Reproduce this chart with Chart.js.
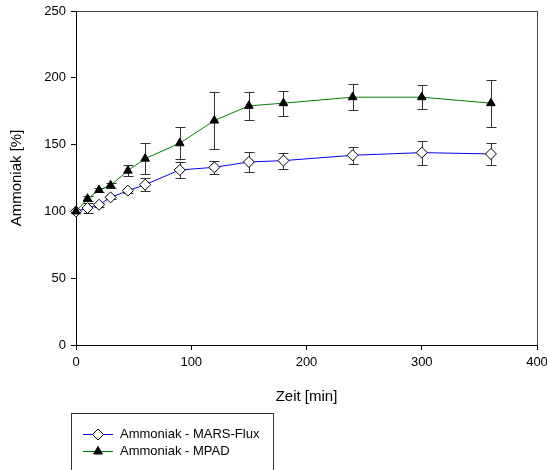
<!DOCTYPE html>
<html>
<head>
<meta charset="utf-8">
<script src="https://cdn.jsdelivr.net/npm/chart.js@4/dist/chart.umd.min.js"></script>
<style>
  html, body { margin: 0; padding: 0; background: #fff; }
  #wrap { width: 547px; height: 470px; }
</style>
</head>
<body>
<div id="wrap"><canvas id="chart" width="547" height="470"></canvas></div>
<script>
// Zeitpunkte [min]
const zeit = [0, 10, 20, 30, 45, 60, 90, 120, 150, 180, 240, 300, 360];

// Ammoniak - MARS-Flux (Mittelwert und Fehler)
const marsFlux    = [100, 102.5, 105, 110.5, 115.5, 120, 131, 133, 137, 138, 142, 144, 143];
const marsFluxErr = [0, 3.5, 1.5, 1.5, 1.5, 4.8, 6, 5, 7.8, 6, 6.4, 9, 8.3];

// Ammoniak - MPAD
const mpad    = [100, 109.5, 116, 119.5, 130.5, 139.5, 151, 168, 179, 181, 185.5, 185.5, 181];
const mpadErr = [0, 2, 1.5, 2, 4, 11.5, 12, 21.5, 10.5, 9.3, 9.5, 9.2, 17.5];

const xTicks = [0, 100, 200, 300, 400];
const yTicks = [0, 50, 100, 150, 200, 250];

const FONT = "'Liberation Sans', Arial, sans-serif";
Chart.defaults.font.family = FONT;
Chart.defaults.color = '#000';

const errors = [marsFluxErr, mpadErr];

// Fehlerbalken unter den Punkten zeichnen
const errorBars = {
  id: 'errorBars',
  beforeDatasetsDraw(chart) {
    const {ctx, scales: {x, y}} = chart;
    ctx.save();
    ctx.strokeStyle = '#333';
    ctx.lineWidth = 1;
    chart.data.datasets.forEach((ds, i) => {
      ds.data.forEach((p, j) => {
        const e = errors[i][j];
        if (!e) return;
        const px = Math.round(x.getPixelForValue(p.x)) + 0.5;
        const top = Math.round(y.getPixelForValue(p.y + e)) + 0.5;
        const bot = Math.round(y.getPixelForValue(p.y - e)) + 0.5;
        ctx.beginPath();
        ctx.moveTo(px, top); ctx.lineTo(px, bot);
        ctx.moveTo(px - 5, top); ctx.lineTo(px + 5, top);
        ctx.moveTo(px - 5, bot); ctx.lineTo(px + 5, bot);
        ctx.stroke();
      });
    });
    ctx.restore();
  }
};

// Rahmen oben/rechts und Legende
const frameAndLegend = {
  id: 'frameAndLegend',
  afterDraw(chart) {
    const {ctx, chartArea: a} = chart;
    ctx.save();
    ctx.strokeStyle = '#444';
    ctx.lineWidth = 1;
    ctx.beginPath();
    ctx.moveTo(Math.round(a.left), Math.round(a.top) + 0.5);
    ctx.lineTo(Math.round(a.right) + 0.5, Math.round(a.top) + 0.5);
    ctx.lineTo(Math.round(a.right) + 0.5, Math.round(a.bottom));
    ctx.stroke();

    // Legende
    ctx.strokeStyle = '#333';
    ctx.strokeRect(71.5, 413.5, 202, 80);
    const rows = [434, 451];
    ctx.font = '13px ' + FONT;
    ctx.textBaseline = 'middle';
    chart.data.datasets.forEach((ds, i) => {
      const yy = rows[i] + 0.5;
      ctx.strokeStyle = ds.borderColor;
      ctx.beginPath();
      ctx.moveTo(83, yy); ctx.lineTo(113, yy);
      ctx.stroke();
      ctx.fillStyle = ds.pointBackgroundColor;
      ctx.strokeStyle = ds.pointBorderColor;
      ctx.lineWidth = 1;
      Chart.helpers.drawPoint(ctx, {
        pointStyle: ds.pointStyle,
        radius: ds.pointRadius,
        borderWidth: 1
      }, 98, yy);
      ctx.fillStyle = '#000';
      ctx.fillText(ds.label, 120, yy);
    });
    ctx.restore();
  }
};

new Chart(document.getElementById('chart'), {
  type: 'line',
  data: {
    datasets: [
      {
        label: 'Ammoniak - MARS-Flux',
        data: zeit.map((t, i) => ({x: t, y: marsFlux[i]})),
        borderColor: '#0000ff',
        borderWidth: 1,
        pointStyle: 'rectRot',
        pointRadius: 5.5,
        pointBackgroundColor: '#fff',
        pointBorderColor: '#000',
        pointBorderWidth: 1,
        clip: false,
        order: 1
      },
      {
        label: 'Ammoniak - MPAD',
        data: zeit.map((t, i) => ({x: t, y: mpad[i]})),
        borderColor: '#008000',
        borderWidth: 1,
        pointStyle: 'triangle',
        pointRadius: 5,
        pointBackgroundColor: '#000',
        pointBorderColor: '#000',
        pointBorderWidth: 1,
        clip: false,
        order: 0
      }
    ]
  },
  options: {
    responsive: false,
    animation: false,
    layout: { padding: { left: 0, top: 11, right: 10, bottom: 60 } },
    plugins: { legend: { display: false }, tooltip: { enabled: false } },
    scales: {
      x: {
        type: 'linear',
        min: 0, max: 400,
        afterBuildTicks: s => { s.ticks = xTicks.map(v => ({value: v})); },
        afterFit: s => { s.height = 65; s.paddingLeft = 0; s.paddingRight = 0; },
        grid: { drawOnChartArea: false, drawTicks: true, tickLength: 5, color: '#000' },
        border: { color: '#000', width: 1 },
        ticks: { padding: 5, font: { size: 13 }, color: '#000', maxRotation: 0 },
        title: { display: true, text: 'Zeit [min]', font: { size: 15 }, padding: { top: 0, bottom: 4 }, color: '#000' }
      },
      y: {
        min: 0, max: 250,
        afterBuildTicks: s => { s.ticks = yTicks.map(v => ({value: v})); },
        afterFit: s => { s.width = 76; s.paddingTop = 0; s.paddingBottom = 0; },
        grid: { drawOnChartArea: false, drawTicks: true, tickLength: 5, color: '#000' },
        border: { color: '#000', width: 1 },
        ticks: { padding: 5, font: { size: 13 }, color: '#000' },
        title: { display: true, text: 'Ammoniak [%]', font: { size: 15 }, padding: { top: 8, bottom: 0 }, color: '#000' }
      }
    }
  },
  plugins: [errorBars, frameAndLegend]
});
</script>
</body>
</html>
